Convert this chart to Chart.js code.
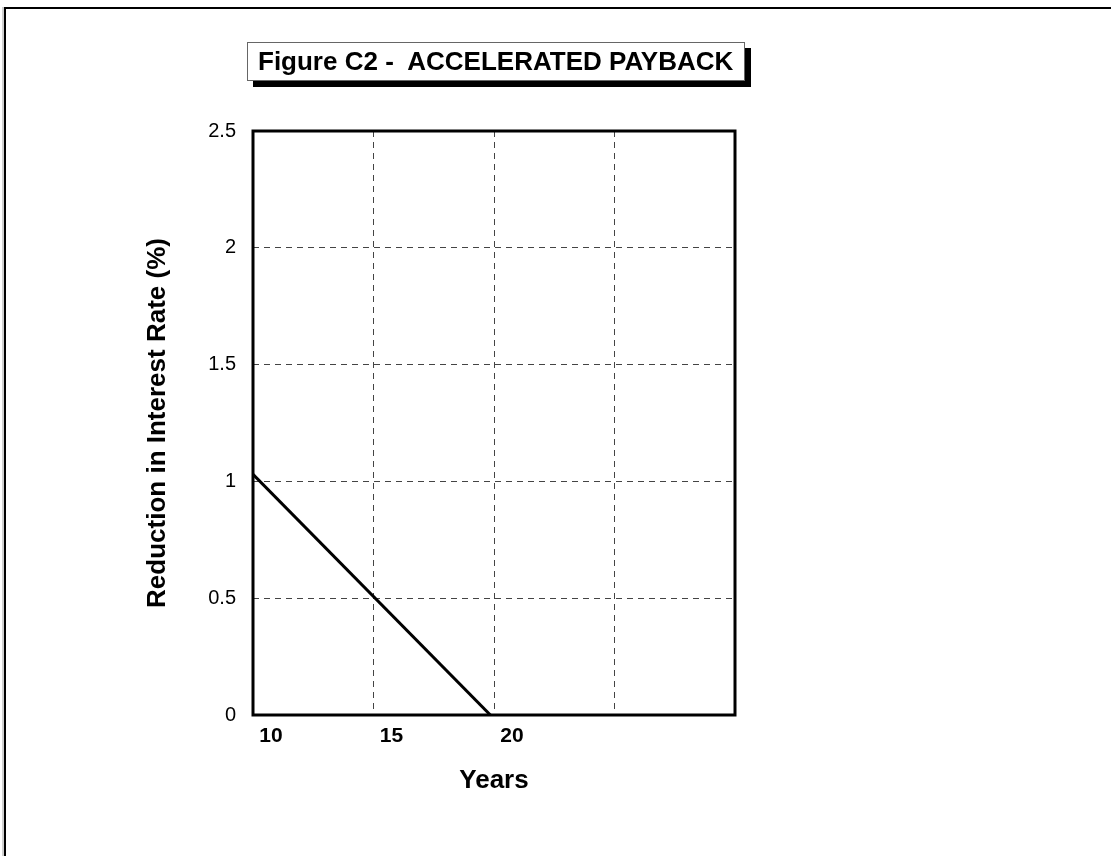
<!DOCTYPE html>
<html>
<head>
<meta charset="utf-8">
<script src="https://cdn.jsdelivr.net/npm/chart.js@4/dist/chart.umd.min.js"></script>
<style>
  html, body { margin: 0; padding: 0; background: #fff; }
  body { width: 1111px; height: 856px; position: relative; overflow: hidden; font-family: "Liberation Sans", Arial, sans-serif; }
  #frame { position: absolute; left: 4px; top: 7px; width: 1300px; height: 1000px; border-top: 2px solid #000; border-left: 2px solid #000; box-shadow: -2px 0 0 #d0d0d0; }
  #c { position: absolute; left: 0; top: 0; }
  #title { position: absolute; left: 247px; top: 42px; width: 498px; height: 39px; box-sizing: border-box;
           border: 1px solid #666; background: #fff; box-shadow: 6px 6px 0 #000;
           font: bold 26px "Liberation Sans", Arial, sans-serif; line-height: 37px; padding-left: 10px; white-space: pre; color: #000; }
</style>
</head>
<body>
<div id="frame"></div>
<canvas id="c" width="1111" height="856"></canvas>
<div id="title">Figure C2 -  ACCELERATED PAYBACK</div>
<script>
const chartTitle = "Figure C2 -  ACCELERATED PAYBACK";
const xAxisTitle = "Years";
const yAxisTitle = "Reduction in Interest Rate (%)";
const years = [10, 19.85];
const reduction = [1.03, 0];
const xTickLabels = ["10", "15", "20"];
const yTickLabels = ["0", "0.5", "1", "1.5", "2", "2.5"];
const xMin = 10, xMax = 30, xStep = 5;
const yMin = 0, yMax = 2.5, yStep = 0.5;

const FONT = '"Liberation Sans", Arial, sans-serif';

const framePlugin = {
  id: 'frame',
  afterDraw(chart) {
    const a = chart.chartArea, ctx = chart.ctx;
    ctx.save();
    ctx.strokeStyle = '#000';
    ctx.lineWidth = 3;
    ctx.strokeRect(a.left, a.top, a.right - a.left, a.bottom - a.top);
    ctx.restore();
  }
};

new Chart(document.getElementById('c'), {
  type: 'line',
  data: {
    datasets: [{
      data: years.map((x, i) => ({ x: x, y: reduction[i] })),
      borderColor: '#000',
      borderWidth: 3,
      pointRadius: 0,
      fill: false,
      tension: 0
    }]
  },
  options: {
    responsive: false,
    devicePixelRatio: 1,
    animation: false,
    layout: { padding: { left: 142, right: 376, top: 131, bottom: 60 } },
    plugins: { legend: { display: false }, tooltip: { enabled: false }, title: { display: false } },
    scales: {
      x: {
        type: 'linear', min: xMin, max: xMax,
        afterBuildTicks(scale) {
          const t = [];
          for (let v = xMin; v <= xMax + 1e-9; v += xStep) t.push({ value: v });
          scale.ticks = t;
        },
        afterFit(scale) { scale.height = 81; },
        grid: { color: '#444', lineWidth: 1, drawTicks: false },
        border: { display: false, dash: [6, 5] },
        ticks: {
          maxRotation: 0, autoSkip: false, padding: 9, labelOffset: 18,
          color: '#000', font: { family: FONT, size: 21, weight: 'bold' },
          callback(v) { const s = String(v); return xTickLabels.includes(s) ? s : ''; }
        },
        title: { display: true, text: xAxisTitle, color: '#000', padding: 0, font: { family: FONT, size: 26, weight: 'bold' } }
      },
      y: {
        min: yMin, max: yMax,
        afterFit(scale) { scale.width = 111; },
        grid: { color: '#444', lineWidth: 1, drawTicks: false },
        border: { display: false, dash: [6, 5] },
        ticks: {
          stepSize: yStep, padding: 17, color: '#000', font: { family: FONT, size: 20 },
          callback(v) { const s = String(Math.round(v * 10) / 10); return yTickLabels.includes(s) ? s : ''; }
        },
        title: { display: true, text: yAxisTitle, color: '#000', padding: 0, font: { family: FONT, size: 26, weight: 'bold' } }
      }
    }
  },
  plugins: [framePlugin]
});
</script>
</body>
</html>
